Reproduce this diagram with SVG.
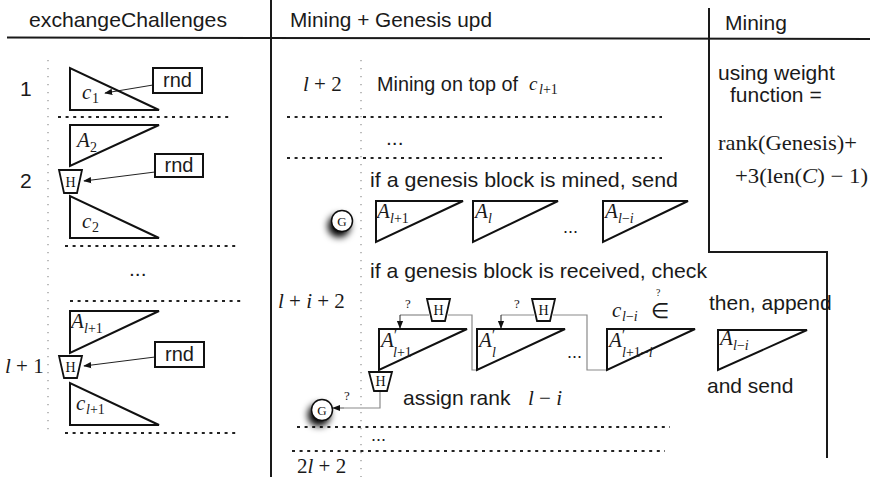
<svg xmlns="http://www.w3.org/2000/svg" width="870" height="477" viewBox="0 0 870 477">
<style>
.bg{fill:#fff}
.t{font-family:"Liberation Sans",Arial,sans-serif;font-size:21px;fill:#1a1a1a}
.r{font-family:"Liberation Serif","Times New Roman",serif;font-size:21px;fill:#1a1a1a}
.m{font-family:"Liberation Serif","Times New Roman",serif;font-style:italic;font-size:21px;fill:#1a1a1a}
.s{font-style:normal;font-size:14px}
.si{font-style:italic;font-size:14px}
.pr{font-family:"Liberation Serif","Times New Roman",serif;font-size:14px;fill:#1a1a1a}
.q{font-family:"Liberation Serif","Times New Roman",serif;font-size:13px;fill:#1a1a1a}
.hl{font-family:"Liberation Serif","Times New Roman",serif;font-size:14px;fill:#111;text-anchor:middle}
.rule{stroke:#1a1a1a;stroke-width:2;fill:none}
.tri{fill:none;stroke:#111;stroke-width:2;stroke-linejoin:miter}
.dash{stroke:#222;stroke-width:2;stroke-dasharray:3 4.6}
.vdot{stroke:#999;stroke-width:1.3;stroke-dasharray:1.3 6.7}
.box{fill:#fff;stroke:#111;stroke-width:2}
.hb{fill:#fff;stroke:#111;stroke-width:1.8;stroke-linejoin:miter}
.arr{stroke:#222;stroke-width:1;fill:none;marker-end:url(#ah)}
.conn{stroke:#8a8a8a;stroke-width:1.2;fill:none}
.gc{fill:#fff;stroke:#111;stroke-width:1.5}
</style>
<defs>
<marker id="ah" viewBox="0 0 10 10" refX="9" refY="5" markerWidth="8" markerHeight="8" markerUnits="userSpaceOnUse" orient="auto">
<path d="M0,1 L10,5 L0,9 Z" fill="#111"/>
</marker>
<filter id="sh" x="-150%" y="-150%" width="400%" height="400%">
<feDropShadow dx="-3" dy="5" stdDeviation="3.5" flood-color="#000" flood-opacity="1"/>
</filter>
</defs>
<rect class="bg" x="0" y="0" width="870" height="477"/>

<g id="frame">
<line class="rule" x1="7" y1="37.5" x2="870" y2="39"/>
<line class="rule" x1="271" y1="0" x2="271" y2="477"/>
<polyline class="rule" points="709,8 709,252 827,252 827,458"/>
<text class="t" x="29" y="27" textLength="198" lengthAdjust="spacingAndGlyphs">exchangeChallenges</text>
<text class="t" x="290" y="27" textLength="202" lengthAdjust="spacingAndGlyphs">Mining + Genesis upd</text>
<text class="t" x="725" y="30">Mining</text>
</g>

<g id="grid">
<line class="vdot" x1="48" y1="60" x2="48" y2="436"/>
<line class="vdot" x1="361" y1="60" x2="361" y2="477"/>
<line class="dash" x1="58" y1="117" x2="232" y2="117"/>
<line class="dash" x1="65" y1="246" x2="239" y2="246"/>
<line class="dash" x1="70" y1="301" x2="244" y2="301"/>
<line class="dash" x1="65" y1="433" x2="239" y2="433"/>
<line class="dash" x1="287" y1="117" x2="662" y2="117"/>
<line class="dash" x1="287" y1="158" x2="662" y2="158"/>
<line class="dash" x1="297" y1="427" x2="670" y2="427"/>
<line class="dash" x1="292" y1="451" x2="665" y2="451"/>
</g>

<g id="connectors">
<line class="arr" x1="153" y1="85" x2="105" y2="93"/>
<line class="arr" x1="155" y1="172" x2="84" y2="181"/>
<line class="arr" x1="155" y1="357" x2="84" y2="366"/>
<polyline class="conn" points="429,315 400,315"/>
<line class="arr" x1="400" y1="315" x2="400" y2="328"/>
<polyline class="conn" points="448,315 472,315 472,370 478,370"/>
<polyline class="conn" points="534,315 501,315"/>
<line class="arr" x1="501" y1="315" x2="501" y2="328"/>
<polyline class="conn" points="553,315 587,315 587,370 608,370"/>
<polyline class="conn" points="380,390 380,408 340,408"/>
<line class="arr" x1="344" y1="408" x2="333" y2="408" style="stroke:#8a8a8a"/>
</g>

<g id="col1-labels">
<text class="t" x="20" y="96">1</text>
<text class="t" x="20" y="188">2</text>
<text class="r" x="5" y="373"><tspan font-style="italic">l</tspan> + 1</text>
<text class="t" x="129" y="276">...</text>
</g>

<g id="c1">
<path class="tri" d="M70,68 L70,110 L159,110 Z"/>
<text class="m" x="82" y="99">c<tspan class="s" x="92" y="103">1</tspan></text>
</g>
<g id="rnd1">
<rect class="box" x="153" y="68" width="49" height="25"/>
<text class="t" x="177.5" y="87" text-anchor="middle" style="font-size:20px">rnd</text>
</g>

<g id="A2">
<path class="tri" d="M70,125 L159,125 L70,166 Z"/>
<text class="m" x="77" y="147">A<tspan class="s" x="90" y="152">2</tspan></text>
</g>
<g id="H1">
<polygon class="hb" points="59,170 82,170 77,193 64,193"/>
<text class="hl" x="70.5" y="187">H</text>
</g>
<g id="rnd2">
<rect class="box" x="155" y="154" width="48" height="23"/>
<text class="t" x="179" y="172" text-anchor="middle" style="font-size:20px">rnd</text>
</g>
<g id="c2">
<path class="tri" d="M70,196 L70,238 L159,238 Z"/>
<text class="m" x="82" y="228">c<tspan class="s" x="92" y="232">2</tspan></text>
</g>

<g id="Al1">
<path class="tri" d="M70,311 L159,311 L70,353 Z"/>
<text class="m" x="71" y="328">A<tspan class="si" x="84" y="333">l</tspan><tspan class="s">+1</tspan></text>
</g>
<g id="H2">
<polygon class="hb" points="59,356 82,356 77,378 64,378"/>
<text class="hl" x="70.5" y="372">H</text>
</g>
<g id="rnd3">
<rect class="box" x="155" y="342" width="49" height="25"/>
<text class="t" x="179.5" y="361" text-anchor="middle" style="font-size:20px">rnd</text>
</g>
<g id="cl1">
<path class="tri" d="M70,383 L70,425 L159,425 Z"/>
<text class="m" x="76" y="410">c<tspan class="si" x="86" y="414">l</tspan><tspan class="s">+1</tspan></text>
</g>

<g id="col2-labels">
<text class="r" x="303" y="91"><tspan font-style="italic">l</tspan> + 2</text>
<text class="t" x="377" y="91" textLength="141" lengthAdjust="spacingAndGlyphs">Mining on top of</text>
<text class="m" x="529" y="90" style="font-size:19px">c<tspan class="si" x="539" y="94">l</tspan><tspan class="s">+1</tspan></text>
<text class="t" x="386" y="145">...</text>
<text class="t" x="370" y="187" textLength="308" lengthAdjust="spacingAndGlyphs">if a genesis block is mined, send</text>
<text class="t" x="563" y="233" style="font-size:18px">...</text>
<text class="t" x="370" y="278" textLength="337" lengthAdjust="spacingAndGlyphs">if a genesis block is received, check</text>
<text class="r" x="278" y="308"><tspan font-style="italic">l</tspan> + <tspan font-style="italic">i</tspan> + 2</text>
<text class="q" x="405" y="308">?</text>
<text class="q" x="514" y="308">?</text>
<text class="m" x="612" y="317">c<tspan class="si" x="622" y="321">l</tspan><tspan class="s">−</tspan><tspan class="si">i</tspan><tspan font-style="normal" x="651" y="318">∈</tspan></text>
<text class="q" x="656" y="296" style="font-size:10px">?</text>
<text class="t" x="567" y="358" style="font-size:18px">...</text>
<text class="q" x="344" y="400">?</text>
<text class="t" x="403" y="405">assign rank</text>
<text class="r" x="528" y="405"><tspan font-style="italic">l</tspan> − <tspan font-style="italic">i</tspan></text>
<text class="t" x="371" y="441" style="font-size:18px">...</text>
<text class="r" x="297" y="473">2<tspan font-style="italic">l</tspan> + 2</text>
</g>

<g id="G1">
<circle class="gc" cx="342" cy="221" r="10.5" filter="url(#sh)"/>
<text class="hl" x="342" y="225.5" style="font-size:13px">G</text>
</g>
<g id="sendA1">
<path class="tri" d="M376,201 L463,201 L376,242 Z"/>
<text class="m" x="377" y="218">A<tspan class="si" x="390" y="223">l</tspan><tspan class="s">+1</tspan></text>
</g>
<g id="sendA2">
<path class="tri" d="M473,201 L558,201 L473,242 Z"/>
<text class="m" x="475" y="218">A<tspan class="si" x="488" y="223">l</tspan></text>
</g>
<g id="sendA3">
<path class="tri" d="M603,201 L688,201 L603,242 Z"/>
<text class="m" x="605" y="218">A<tspan class="si" x="618" y="223">l</tspan><tspan class="s">−</tspan><tspan class="si">i</tspan></text>
</g>

<g id="recvA1">
<path class="tri" d="M379,329 L467,329 L379,370 Z"/>
<text class="m" x="381" y="347">A<tspan class="si" x="393" y="357">l</tspan><tspan class="s">+1</tspan></text>
<text class="pr" x="394" y="340">′</text>
</g>
<g id="Ha">
<polygon class="hb" points="427,299 450,299 445,321 432,321"/>
<text class="hl" x="438.5" y="315">H</text>
</g>
<g id="recvA2">
<path class="tri" d="M477,329 L565,329 L477,370 Z"/>
<text class="m" x="479" y="347">A<tspan class="si" x="492" y="357">l</tspan></text>
<text class="pr" x="492" y="340">′</text>
</g>
<g id="Hb">
<polygon class="hb" points="532,299 555,299 550,321 537,321"/>
<text class="hl" x="543.5" y="315">H</text>
</g>
<g id="recvA3">
<path class="tri" d="M607,329 L695,329 L607,370 Z"/>
<text class="m" x="609" y="347">A<tspan class="si" x="622" y="357">l</tspan><tspan class="s">+1−</tspan><tspan class="si">i</tspan></text>
<text class="pr" x="622" y="340">′</text>
</g>
<g id="Hc">
<polygon class="hb" points="369,372 392,372 387,391 374,391"/>
<text class="hl" x="380.5" y="386">H</text>
</g>
<g id="G2">
<circle class="gc" cx="322" cy="410" r="10.5" filter="url(#sh)"/>
<text class="hl" x="322" y="414.5" style="font-size:13px">G</text>
</g>

<g id="col3">
<text class="t" x="718" y="80">using weight</text>
<text class="t" x="730" y="102">function =</text>
<text class="r" x="718" y="150" textLength="139" lengthAdjust="spacingAndGlyphs">rank(Genesis)+</text>
<text class="r" x="735" y="183" textLength="133" lengthAdjust="spacingAndGlyphs">+3(len(<tspan font-style="italic">C</tspan>) − 1)</text>
<text class="t" x="709" y="310">then, append</text>
<path class="tri" d="M718,330 L807,330 L718,370 Z"/>
<text class="m" x="720" y="345">A<tspan class="si" x="733" y="350">l</tspan><tspan class="s">−</tspan><tspan class="si">i</tspan></text>
<text class="t" x="707" y="393">and send</text>
</g>
</svg>
